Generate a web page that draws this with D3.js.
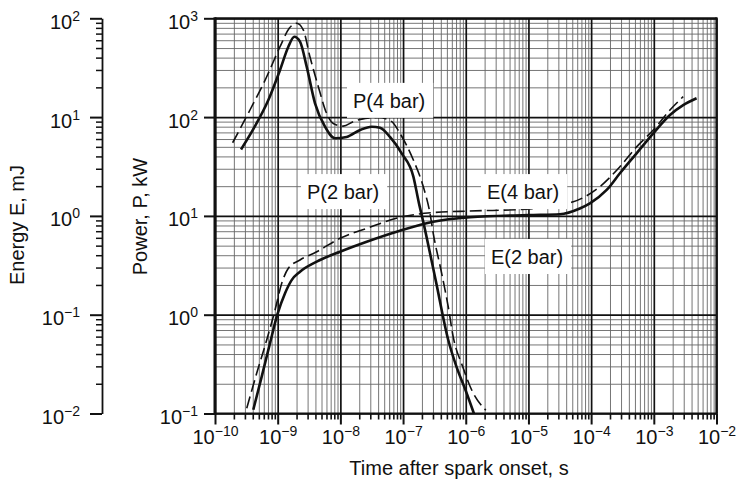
<!DOCTYPE html>
<html><head><meta charset="utf-8">
<script src="https://cdn.jsdelivr.net/npm/d3@7"></script>
<style>
body{margin:0;background:#fff;}
svg{display:block;font-family:"Liberation Sans",Arial,Helvetica,sans-serif;}
</style>
</head><body>
<svg id="chart" width="740" height="480"></svg>
<script>
// ---- data ----
const p2Time  = [2.6e-10, 4.3e-10, 7.1e-10, 1.09e-9, 1.48e-9, 1.84e-9, 2.27e-9, 2.9e-9, 3.94e-9, 5.68e-9, 8.2e-9, 1.26e-8, 2.06e-8, 3.16e-8, 4.29e-8, 6.18e-8, 9.5e-8, 1.46e-7, 1.78e-7, 2.1e-7, 3.33e-7, 5.26e-7, 7.08e-7, 1.0e-6, 1.35e-6];
const p2Power = [47, 80, 149, 300, 516, 650, 580, 324, 138, 80, 61, 63, 74, 80, 78, 63, 43, 25, 13.7, 8.7, 2.2, 0.555, 0.3, 0.17, 0.1];

const p4Time  = [1.91e-10, 3.61e-10, 6.68e-10, 1.09e-9, 1.53e-9, 2.01e-9, 2.56e-9, 3.27e-9, 4.45e-9, 6.04e-9, 7.71e-9, 1.11e-8, 1.61e-8, 2.5e-8, 4.0e-8, 6.6e-8, 8.9e-8, 1.46e-7, 2.1e-7, 2.69e-7, 3.03e-7, 4.13e-7, 5.26e-7, 6.3e-7, 8.9e-7, 1.26e-6, 2.09e-6];
const p4Power = [55, 118, 256, 516, 793, 890, 762, 408, 203, 109, 86, 81, 90, 97, 99, 90, 68.6, 36.8, 19.8, 10.6, 6.67, 2.62, 1.2, 0.6, 0.3, 0.17, 0.108];

const e2Time   = [4.08e-10, 5.56e-10, 7.53e-10, 9.86e-10, 1.31e-9, 1.67e-9, 2.27e-9, 4.19e-9, 9.86e-9, 2.63e-8, 8.9e-8, 3.03e-7, 1.17e-6, 1e-5, 3.16e-5, 6.6e-5, 9.57e-5, 1.77e-4, 2.88e-4, 5.31e-4, 9.8e-4, 1.81e-3, 2.94e-3, 4.81e-3];
const e2Energy = [0.0109, 0.0236, 0.0513, 0.1, 0.165, 0.224, 0.272, 0.344, 0.434, 0.548, 0.708, 0.874, 0.968, 1.02, 1.04, 1.19, 1.34, 1.83, 2.7, 4.3, 6.86, 10.5, 13.2, 15.5];

const e4Time   = [3.21e-10, 4.62e-10, 6.68e-10, 9.06e-10, 1.16e-9, 1.48e-9, 2.27e-9, 4.19e-9, 9.86e-9, 2.63e-8, 8.9e-8, 3.03e-7, 1.17e-6, 9.35e-6, 5.19e-5, 1.38e-4, 2.88e-4, 5.31e-4, 9.8e-4, 1.81e-3, 2.94e-3];
const e4Energy = [0.0113, 0.0255, 0.0555, 0.111, 0.208, 0.295, 0.358, 0.434, 0.593, 0.748, 0.968, 1.08, 1.12, 1.17, 1.39, 1.98, 3.15, 5.0, 7.4, 11.8, 16.1];

const xTickExps      = [-10, -9, -8, -7, -6, -5, -4, -3, -2];
const powerTickExps  = [-1, 0, 1, 2, 3];
const energyTickExps = [-2, -1, 0, 1, 2];

const curveLabels = ["P(4 bar)", "P(2 bar)", "E(4 bar)", "E(2 bar)"];
const labelTimes  = [1.59e-8, 2.93e-9, 2.18e-6, 2.52e-6];
const labelPowers = [124, 14.8, 14.8, 3.26];

const xTitle = "Time after spark onset, s";
const pTitle = "Power, P, kW";
const eTitle = "Energy E, mJ";

// ---- layout ----
const X0 = 215, X1 = 716.5, Y0 = 18.3, Y1 = 413.5, EX = 102;
const svg = d3.select("#chart");

const x  = d3.scaleLog().domain([1e-10, 1e-2]).range([X0, X1]);
const yP = d3.scaleLog().domain([0.1, 1000]).range([Y1, Y0]);
const yE = d3.scaleLog().domain([0.01, 100]).range([Y1, Y0]);

function minorsOf(exps) {
  const out = [];
  for (let i = 0; i < exps.length - 1; i++)
    for (let k = 2; k <= 9; k++) out.push(k * Math.pow(10, exps[i]));
  return out;
}
const xMajors = xTickExps.map(e => Math.pow(10, e));
const pMajors = powerTickExps.map(e => Math.pow(10, e));
const eMajors = energyTickExps.map(e => Math.pow(10, e));
const xMinors = minorsOf(xTickExps);
const pMinors = minorsOf(powerTickExps);
const eMinors = minorsOf(energyTickExps);

function supLabel(sel, e) {
  sel.append("tspan").text("10");
  sel.append("tspan").attr("dy", -8).attr("font-size", 14)
     .text(e < 0 ? "\u2212" + Math.abs(e) : String(e));
}

// ---- grid ----
const grid = svg.append("g");
grid.append("g").attr("transform", `translate(0,${Y1})`)
  .call(d3.axisBottom(x).tickValues(xMinors).tickSize(-(Y1 - Y0)).tickFormat(""))
  .call(g => g.select(".domain").remove())
  .selectAll("line").attr("stroke", "#666").attr("stroke-width", 0.9);
grid.append("g").attr("transform", `translate(${X0},0)`)
  .call(d3.axisLeft(yP).tickValues(pMinors).tickSize(-(X1 - X0)).tickFormat(""))
  .call(g => g.select(".domain").remove())
  .selectAll("line").attr("stroke", "#666").attr("stroke-width", 0.9);
grid.append("g").attr("transform", `translate(0,${Y1})`)
  .call(d3.axisBottom(x).tickValues(xMajors).tickSize(-(Y1 - Y0)).tickFormat(""))
  .call(g => g.select(".domain").remove())
  .selectAll("line").attr("stroke", "#111").attr("stroke-width", 1.7);
grid.append("g").attr("transform", `translate(${X0},0)`)
  .call(d3.axisLeft(yP).tickValues(pMajors).tickSize(-(X1 - X0)).tickFormat(""))
  .call(g => g.select(".domain").remove())
  .selectAll("line").attr("stroke", "#111").attr("stroke-width", 1.7);

// ---- curves ----
const plot = svg.append("g");
function drawSeries(ts, vs, yScale, dashed, width) {
  const pts = ts.map((t, i) => [t, vs[i]]);
  const line = d3.line().x(d => x(d[0])).y(d => yScale(d[1])).curve(d3.curveMonotoneX);
  plot.append("path").datum(pts).attr("d", line)
    .attr("fill", "none").attr("stroke", "#111")
    .attr("stroke-width", width)
    .attr("stroke-dasharray", dashed ? "12,5" : null)
    .attr("stroke-linejoin", "round");
}
drawSeries(p4Time, p4Power, yP, true, 1.6);
drawSeries(p2Time, p2Power, yP, false, 2.6);
drawSeries(e4Time, e4Energy, yE, true, 1.6);
drawSeries(e2Time, e2Energy, yE, false, 2.6);

// ---- curve labels with white boxes ----
const lab = svg.append("g").attr("font-size", 20).attr("fill", "#111");
curveLabels.forEach((txt, i) => {
  const g = lab.append("g");
  const t = g.append("text").attr("x", x(labelTimes[i])).attr("y", yP(labelPowers[i])).text(txt);
  const b = t.node().getBBox();
  g.insert("rect", "text").attr("x", b.x - 6).attr("y", b.y - 7)
    .attr("width", b.width + 14).attr("height", b.height + 13).attr("fill", "#fff");
});

// ---- frame ----
const frame = svg.append("g").attr("fill", "none").attr("stroke", "#111");
frame.append("line").attr("x1", X0).attr("x2", X1).attr("y1", Y0).attr("y2", Y0).attr("stroke-width", 2.2);
frame.append("line").attr("x1", X1).attr("x2", X1).attr("y1", Y0 - 1).attr("y2", Y1).attr("stroke-width", 2.2);
frame.append("line").attr("x1", X0).attr("x2", X1 + 1).attr("y1", Y1).attr("y2", Y1).attr("stroke-width", 2.2);
frame.append("line").attr("x1", X0).attr("x2", X0).attr("y1", Y0 - 1).attr("y2", Y1 + 1).attr("stroke-width", 3);

// ---- x axis ----
const xa = svg.append("g").attr("transform", `translate(0,${Y1})`);
xa.append("g").call(d3.axisBottom(x).tickValues(xMinors).tickSize(6).tickFormat(""))
  .call(g => g.select(".domain").remove())
  .selectAll("line").attr("stroke", "#111").attr("stroke-width", 1.6);
const xM = xa.append("g").call(d3.axisBottom(x).tickValues(xMajors).tickSize(11).tickFormat(""))
  .call(g => g.select(".domain").remove());
xM.selectAll("line").attr("stroke", "#111").attr("stroke-width", 2);
xM.selectAll(".tick").append("text").attr("y", 30).attr("fill", "#111")
  .attr("font-size", 20).attr("text-anchor", "middle")
  .each(function(d) { supLabel(d3.select(this), Math.round(Math.log10(d))); });

// ---- power axis ----
const pa = svg.append("g").attr("transform", `translate(${X0},0)`)
  .call(d3.axisLeft(yP).tickValues(pMajors).tickSize(11).tickFormat(""))
  .call(g => g.select(".domain").remove());
pa.selectAll("line").attr("stroke", "#111").attr("stroke-width", 2);
pa.selectAll(".tick").append("text").attr("x", -17).attr("y", 10).attr("fill", "#111")
  .attr("font-size", 20).attr("text-anchor", "end")
  .each(function(d) { supLabel(d3.select(this), Math.round(Math.log10(d))); });

// ---- energy axis ----
const ea = svg.append("g").attr("transform", `translate(${EX},0)`);
ea.append("g").call(d3.axisLeft(yE).tickValues(eMinors).tickSize(6).tickFormat(""))
  .call(g => g.select(".domain").remove())
  .selectAll("line").attr("stroke", "#111").attr("stroke-width", 1.5);
const eM = ea.append("g").call(d3.axisLeft(yE).tickValues(eMajors).tickSize(12).tickSizeOuter(0).tickFormat(""));
eM.select(".domain").attr("stroke", "#111").attr("stroke-width", 1.8);
eM.selectAll(".tick line").attr("stroke", "#111").attr("stroke-width", 2);
eM.selectAll(".tick").append("text").attr("x", -22).attr("y", 10).attr("fill", "#111")
  .attr("font-size", 20).attr("text-anchor", "end")
  .each(function(d) { supLabel(d3.select(this), Math.round(Math.log10(d))); });

// ---- titles ----
svg.append("text").attr("x", 459).attr("y", 475).attr("text-anchor", "middle")
  .attr("font-size", 20).attr("fill", "#111").text(xTitle);
svg.append("text").attr("transform", "translate(147,216.5) rotate(-90)").attr("text-anchor", "middle")
  .attr("font-size", 20).attr("fill", "#111").text(pTitle);
svg.append("text").attr("transform", "translate(24,225) rotate(-90)").attr("text-anchor", "middle")
  .attr("font-size", 20).attr("fill", "#111").text(eTitle);
</script>
</body></html>
